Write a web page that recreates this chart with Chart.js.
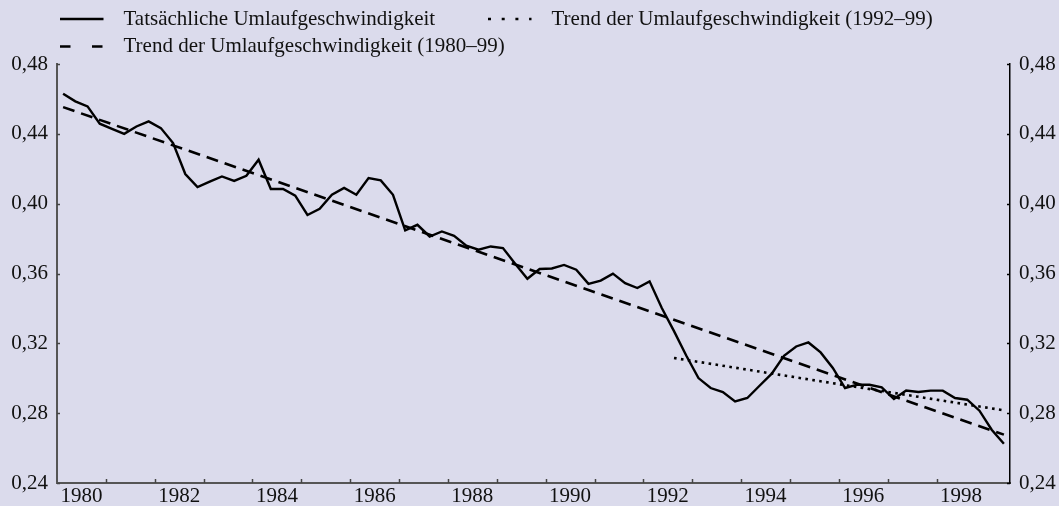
<!DOCTYPE html>
<html lang="de">
<head>
<meta charset="utf-8">
<title>Umlaufgeschwindigkeit</title>
<script src="https://cdn.jsdelivr.net/npm/chart.js@4"></script>
<style>
    html, body { margin: 0; padding: 0; background: #dbdbec; }
    #wrap { position: relative; width: 1059px; height: 506px; background: #dbdbec; }
</style>
</head>
<body>
<div id="wrap"><canvas id="velocityChart"></canvas></div>
<script>
// Quarterly values, 1980 Q1 to 1999 Q2
const firstYear = 1980;
const velocity = [
    0.463, 0.4586, 0.4557, 0.4458, 0.4429, 0.4400, 0.4442, 0.4471,   // 1980-81
    0.4433, 0.4347, 0.4170, 0.4095, 0.4126, 0.4156, 0.4130, 0.4160,  // 1982-83
    0.4252, 0.4084, 0.4084, 0.4046, 0.3935, 0.3971, 0.4051, 0.4090,  // 1984-85
    0.4051, 0.4147, 0.4133, 0.4051, 0.3847, 0.3879, 0.3812, 0.3841,  // 1986-87
    0.3816, 0.3759, 0.3736, 0.3755, 0.3746, 0.3656, 0.3570, 0.3626,  // 1988-89
    0.3629, 0.3649, 0.3622, 0.3541, 0.3559, 0.3599, 0.3545, 0.3517,  // 1990-91
    0.3555, 0.3402, 0.3270, 0.3130, 0.3001, 0.2944, 0.2921, 0.2867,  // 1992-93
    0.2887, 0.2957, 0.3026, 0.3129, 0.3182, 0.3205, 0.3148, 0.3059,  // 1994-95
    0.2944, 0.2963, 0.2963, 0.2948, 0.2881, 0.2930, 0.2921, 0.2929,  // 1996-97
    0.2929, 0.2887, 0.2877, 0.2814, 0.2705, 0.2625                   // 1998-99
];

// Trend lines: value at first and last quarter they cover
const trendLong = [0.4553, 0.2677];   // 1980-99
const trendShort = [0.3116, 0.2816];  // 1992-99
const trendShortFrom = 50;            // quarter index where short trend begins

const xLabelYears = [1980, 1982, 1984, 1986, 1988, 1990, 1992, 1994, 1996, 1998];
const yTicks = [0.24, 0.28, 0.32, 0.36, 0.40, 0.44, 0.48];

const labels = [
    'Tatsächliche Umlaufgeschwindigkeit',
    'Trend der Umlaufgeschwindigkeit (1980–99)',
    'Trend der Umlaufgeschwindigkeit (1992–99)'
];

// middle of quarter i on the year axis
function quarterX(i) {
    return firstYear + (i + 0.5) / 4;
}

const lastIdx = velocity.length - 1;
const actualPoints = velocity.map((v, i) => ({ x: quarterX(i), y: v }));
const longPoints = [
    { x: quarterX(0), y: trendLong[0] },
    { x: quarterX(lastIdx), y: trendLong[1] }
];
const shortPoints = [
    { x: quarterX(trendShortFrom), y: trendShort[0] },
    { x: quarterX(lastIdx), y: trendShort[1] }
];

const serif = '"Liberation Serif", "Times New Roman", serif';
const ink = '#111111';

// small tick marks pointing into the plot area
const innerTicks = {
    id: 'innerTicks',
    afterDraw(chart) {
        const { ctx, chartArea, scales } = chart;
        ctx.save();
        ctx.lineWidth = 1.5;
        ctx.strokeStyle = '#444444';
        scales.x.ticks.forEach(t => {
            if (!Number.isInteger(t.value) || t.value === scales.x.min) return;
            const px = Math.round(scales.x.getPixelForValue(t.value)) + 0.5;
            ctx.beginPath();
            ctx.moveTo(px, chartArea.bottom);
            ctx.lineTo(px, chartArea.bottom - 4);
            ctx.stroke();
        });
        scales.y.ticks.forEach(t => {
            const py = Math.round(scales.y.getPixelForValue(t.value)) + 0.5;
            ctx.beginPath();
            ctx.moveTo(chartArea.left, py);
            ctx.lineTo(chartArea.left + 3, py);
            ctx.stroke();
        });
        ctx.strokeStyle = '#000000';
        scales.y2.ticks.forEach(t => {
            const py = Math.round(scales.y2.getPixelForValue(t.value)) + 0.5;
            ctx.beginPath();
            ctx.moveTo(chartArea.right, py);
            ctx.lineTo(chartArea.right - 3, py);
            ctx.stroke();
        });
        ctx.restore();
    }
};

// legend in two rows above the plot, samples drawn like the original
const legendRows = {
    id: 'legendRows',
    afterDraw(chart) {
        const ctx = chart.ctx;
        const spots = [
            { x: 60, y: 19, dash: [] },
            { x: 60, y: 46.5, dash: [10.5, 21.5] },
            { x: 488, y: 19, dash: [3, 10.7] }
        ];
        ctx.save();
        ctx.font = '21px ' + serif;
        ctx.textBaseline = 'middle';
        chart.data.datasets.forEach((ds, i) => {
            const s = spots[i];
            ctx.beginPath();
            ctx.setLineDash(s.dash);
            ctx.lineCap = 'butt';
            ctx.lineWidth = 2.6;
            ctx.strokeStyle = ds.borderColor;
            ctx.moveTo(s.x, s.y);
            ctx.lineTo(s.x + 43.5, s.y);
            ctx.stroke();
            ctx.setLineDash([]);
            ctx.fillStyle = ink;
            ctx.fillText(ds.label, s.x + 63.5, s.y);
        });
        ctx.restore();
    }
};

function commaLabel(value) {
    return value.toFixed(2).replace('.', ',');
}

const yAxisBase = {
    type: 'linear',
    min: yTicks[0],
    max: yTicks[yTicks.length - 1],
    afterBuildTicks: scale => {
        scale.ticks = yTicks.map(v => ({ value: v }));
    },
    grid: { display: false, drawTicks: false },
    ticks: {
        color: ink,
        padding: 9,
        font: { family: serif, size: 21 },
        callback: commaLabel
    }
};

const ctx = document.getElementById('velocityChart');
new Chart(ctx, {
    type: 'line',
    data: {
        datasets: [{
            label: labels[0],
            data: actualPoints,
            borderColor: '#000000',
            borderWidth: 2.4,
            pointRadius: 0,
            tension: 0
        }, {
            label: labels[1],
            data: longPoints,
            borderColor: '#000000',
            borderWidth: 2.6,
            borderDash: [12, 7],
            pointRadius: 0
        }, {
            label: labels[2],
            data: shortPoints,
            borderColor: '#000000',
            borderWidth: 2.6,
            borderDash: [2.6, 4.4],
            pointRadius: 0
        }]
    },
    options: {
        responsive: true,
        maintainAspectRatio: false,
        animation: false,
        layout: { padding: { top: 64, left: 0, right: 0, bottom: 0 } },
        plugins: {
            legend: { display: false },
            tooltip: { enabled: false }
        },
        scales: {
            x: {
                type: 'linear',
                min: firstYear,
                max: 1999.5,
                afterFit: scale => { scale.height = 23; },
                grid: { display: false, drawTicks: false },
                border: { display: true, color: '#555555', width: 2 },
                ticks: {
                    stepSize: 1,
                    autoSkip: false,
                    maxRotation: 0,
                    padding: 1,
                    labelOffset: 24.4,
                    color: ink,
                    font: { family: serif, size: 21 },
                    callback: value => xLabelYears.includes(value) ? String(value) : ''
                }
            },
            y: Object.assign({}, yAxisBase, {
                position: 'left',
                afterFit: scale => { scale.width = 57; },
                border: { display: true, color: '#555555', width: 2 }
            }),
            y2: Object.assign({}, yAxisBase, {
                position: 'right',
                afterFit: scale => { scale.width = 49; },
                border: { display: true, color: '#000000', width: 1.5 }
            })
        }
    },
    plugins: [innerTicks, legendRows]
});
</script>
</body>
</html>
